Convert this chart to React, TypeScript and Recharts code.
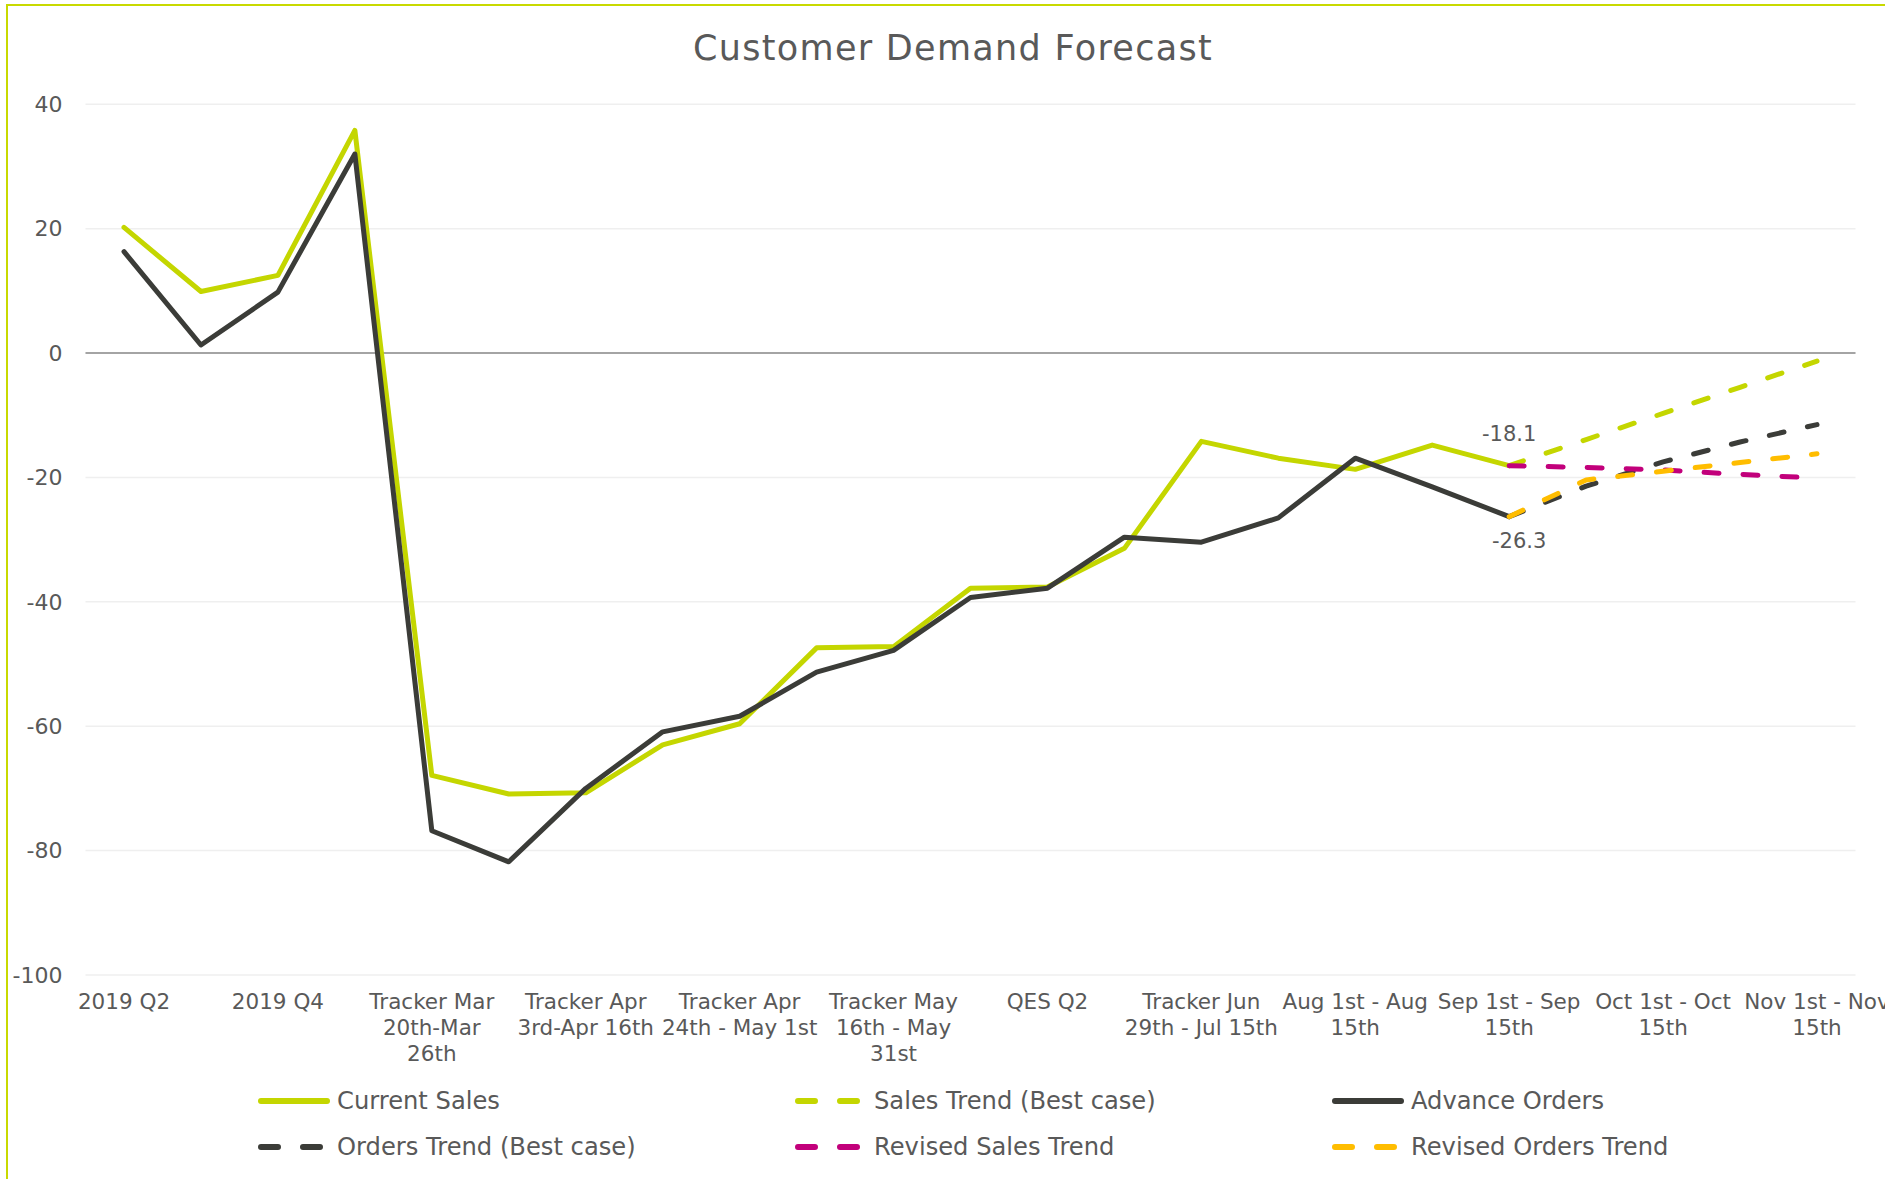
import React from "react";
import { LineChart, Line, XAxis, YAxis, CartesianGrid, ReferenceLine } from "recharts";

const FONT = "'DejaVu Sans', sans-serif";
const TEXT = "#595959";

const categories: string[] = [
  "2019 Q2",
  "2019 Q3",
  "2019 Q4",
  "2020 Q1",
  "Tracker Mar\n20th-Mar\n26th",
  "Tracker Mar\n27th-Apr 2nd",
  "Tracker Apr\n3rd-Apr 16th",
  "Tracker Apr\n17th-Apr 23rd",
  "Tracker Apr\n24th - May 1st",
  "Tracker May\n2nd - May 15th",
  "Tracker May\n16th - May\n31st",
  "Tracker Jun\n1st - Jun 14th",
  "QES Q2",
  "Tracker Jun\n15th - Jun 28th",
  "Tracker Jun\n29th - Jul 15th",
  "Jul 16th - Jul\n31st",
  "Aug 1st - Aug\n15th",
  "Aug 16th - Aug\n31st",
  "Sep 1st - Sep\n15th",
  "Sep 16th - Sep\n30th",
  "Oct 1st - Oct\n15th",
  "Oct 16th - Oct\n31st",
  "Nov 1st - Nov\n15th",
];

const currentSales: (number | null)[] = [
  20.2, 9.9, 12.5, 35.8, -67.9, -70.9, -70.7, -63.0, -59.6, -47.4, -47.2, -37.8,
  -37.6, -31.4, -14.2, -16.9, -18.7, -14.8, -18.1, null, null, null, null,
];
const salesTrendBest: (number | null)[] = [
  null, null, null, null, null, null, null, null, null, null, null, null,
  null, null, null, null, null, null, -18.1, -13.9, -9.7, -5.5, -1.3,
];
const advanceOrders: (number | null)[] = [
  16.3, 1.3, 9.8, 32.0, -76.8, -81.8, -70.0, -60.9, -58.4, -51.3, -47.8, -39.3,
  -37.8, -29.6, -30.4, -26.5, -16.9, -21.5, -26.3, null, null, null, null,
];
const ordersTrendBest: (number | null)[] = [
  null, null, null, null, null, null, null, null, null, null, null, null,
  null, null, null, null, null, null, -26.3, -21.4, -17.5, -14.3, -11.5,
];
const revisedSalesTrend: (number | null)[] = [
  null, null, null, null, null, null, null, null, null, null, null, null,
  null, null, null, null, null, null, -18.1, -18.4, -18.8, -19.5, -20.1,
];
const revisedOrdersTrend: (number | null)[] = [
  null, null, null, null, null, null, null, null, null, null, null, null,
  null, null, null, null, null, null, -26.3, -20.4, -19.0, -17.6, -16.2,
];

const yTicks = [-100, -80, -60, -40, -20, 0, 20, 40];

const series = [
  { key: "currentSales", name: "Current Sales", color: "#C4D600", dashed: false, values: currentSales },
  { key: "salesTrendBest", name: "Sales Trend (Best case)", color: "#C4D600", dashed: true, values: salesTrendBest },
  { key: "advanceOrders", name: "Advance Orders", color: "#3B3C38", dashed: false, values: advanceOrders },
  { key: "ordersTrendBest", name: "Orders Trend (Best case)", color: "#3B3C38", dashed: true, values: ordersTrendBest },
  { key: "revisedSalesTrend", name: "Revised Sales Trend", color: "#C2007B", dashed: true, values: revisedSalesTrend },
  { key: "revisedOrdersTrend", name: "Revised Orders Trend", color: "#FFBD00", dashed: true, values: revisedOrdersTrend },
];

const data = categories.map((c, i) => {
  const row: Record<string, string | number | null> = { category: c };
  series.forEach((s) => {
    row[s.key] = s.values[i];
  });
  return row;
});

const lastIndex = (arr: (number | null)[]) => {
  let idx = -1;
  arr.forEach((v, i) => {
    if (v !== null) idx = i;
  });
  return idx;
};

const XTick = (props: any) => {
  const { x, y, payload } = props;
  const lines = String(payload.value).split("\n");
  return (
    <text x={x} y={y} textAnchor="middle" fill={TEXT} fontSize={21.5} fontFamily={FONT}>
      {lines.map((l, i) => (
        <tspan key={i} x={x} dy={i === 0 ? 34 : 26}>
          {l}
        </tspan>
      ))}
    </text>
  );
};

const makeEndLabel = (arr: (number | null)[], dy: number, dx: number) => (props: any) => {
  const { x, y, index, value } = props;
  if (index !== lastIndex(arr) || value == null) return <g />;
  return (
    <text x={x + dx} y={y + dy} textAnchor="middle" dominantBaseline="central" fill={TEXT} fontSize={21} fontFamily={FONT}>
      {Number(value).toFixed(1)}
    </text>
  );
};

const LegendItem = ({ s, left, top }: { s: (typeof series)[number]; left: number; top: number }) => (
  <div style={{ position: "absolute", left, top: top - 16, height: 32, display: "flex", alignItems: "center" }}>
    <svg width={80} height={32} style={{ display: "block" }}>
      {s.dashed ? (
        <line x1={3} y1={16} x2={66} y2={16} stroke={s.color} strokeWidth={6} strokeLinecap="round" strokeDasharray="17 25" />
      ) : (
        <line x1={3} y1={16} x2={69} y2={16} stroke={s.color} strokeWidth={6} strokeLinecap="round" />
      )}
    </svg>
    <span style={{ fontSize: 24.2, color: TEXT, fontFamily: FONT, whiteSpace: "nowrap", marginLeft: -1 }}>{s.name}</span>
  </div>
);

export default function App() {
  const cols = [258, 795, 1332];
  const rows = [1101, 1147];
  return (
    <div
      style={{
        position: "absolute",
        left: 0,
        top: 0,
        width: 1885,
        height: 1179,
        overflow: "hidden",
        background: "#ffffff",
        fontFamily: FONT,
      }}
    >
      <div
        style={{
          position: "absolute",
          left: 6,
          top: 4,
          width: 1900,
          height: 1200,
          border: "2.5px solid #C8D900",
          boxSizing: "border-box",
        }}
      />
      <div
        style={{
          position: "absolute",
          left: 0,
          top: 27,
          width: 1906,
          textAlign: "center",
          fontSize: 35,
          letterSpacing: 1.3,
          lineHeight: "42px",
          color: TEXT,
          fontFamily: FONT,
        }}
      >
        Customer Demand Forecast
      </div>
      <div style={{ position: "absolute", left: 0, top: 0 }}>
        <LineChart width={1885} height={1179} data={data} margin={{ top: 104.3, right: 29.5, bottom: 174, left: 25.5 }}>
          <CartesianGrid horizontal vertical={false} stroke="#EFEFEF" strokeWidth={1.5} />
          <XAxis
            dataKey="category"
            interval={1}
            height={30}
            axisLine={false}
            tickLine={false}
            tickSize={0}
            tickMargin={0}
            padding={{ left: 38.5, right: 38.5 }}
            tick={<XTick />}
          />
          <YAxis
            width={60}
            domain={[-100, 40]}
            ticks={yTicks}
            interval={0}
            axisLine={false}
            tickLine={false}
            tickSize={0}
            tickMargin={23}
            tick={{ fill: TEXT, fontSize: 22, fontFamily: FONT }}
          />
          <ReferenceLine y={0} stroke="#8A8A8A" strokeWidth={1.6} />
          {series.map((s) => (
            <Line
              key={s.key}
              dataKey={s.key}
              name={s.name}
              type="linear"
              stroke={s.color}
              strokeWidth={5}
              strokeDasharray={s.dashed ? "15 24" : undefined}
              strokeLinecap="round"
              strokeLinejoin="round"
              dot={false}
              activeDot={false}
              connectNulls={false}
              isAnimationActive={false}
              label={
                s.key === "currentSales"
                  ? makeEndLabel(currentSales, -32, 0)
                  : s.key === "advanceOrders"
                  ? makeEndLabel(advanceOrders, 24, 10)
                  : undefined
              }
            />
          ))}
        </LineChart>
      </div>
      {series.map((s, i) => (
        <LegendItem key={s.key} s={s} left={cols[i % 3]} top={rows[Math.floor(i / 3)]} />
      ))}
    </div>
  );
}
